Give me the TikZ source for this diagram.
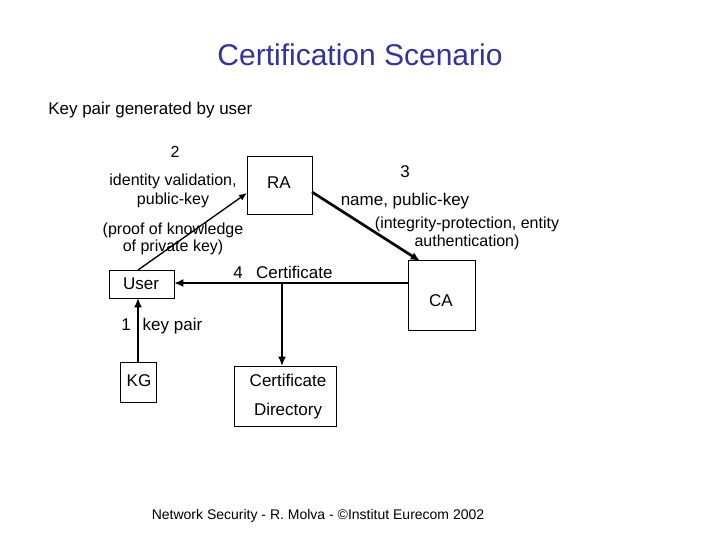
\documentclass[tikz,border=0pt]{standalone}
\usepackage{fontspec}
\setmainfont{Liberation Sans}
\usetikzlibrary{arrows.meta}
\definecolor{titleblue}{RGB}{51,51,153}
\tikzset{
  box/.style={draw, line width=0.8pt, inner sep=0pt, anchor=north west},
  lbl/.style={font=\fontsize{12}{14}\selectfont, inner sep=0pt, align=center},
  biglbl/.style={font=\fontsize{12.75}{15}\selectfont, inner sep=0pt, align=center},
  thin arrow/.style={line width=1pt, -{Latex[length=6pt,width=5pt]}},
  thick arrow/.style={line width=2pt, -{Latex[length=7pt,width=6pt]}},
}
\begin{document}
\begin{tikzpicture}[x=0.75pt, y=-0.75pt]
\useasboundingbox[fill=white] (0,0) rectangle (720,540);
% title
\node[font=\fontsize{22.5}{26}\selectfont, text=titleblue, inner sep=0pt] (title) at (360,55) {Certification Scenario};
\node[font=\fontsize{12.75}{15}\selectfont, anchor=west, inner sep=0pt] (sub) at (48,110) {Key pair generated by user};
% boxes
\node[box, minimum width=65*0.75pt, minimum height=58*0.75pt] (ra) at (247,156) {};
\node[biglbl] (ralbl) at (279,183) {RA};
\node[box, minimum width=65*0.75pt, minimum height=28*0.75pt] (user) at (109,270) {};
\node[biglbl] (userlbl) at (141,284) {User};
\node[box, minimum width=67*0.75pt, minimum height=70*0.75pt] (ca) at (408,260) {};
\node[biglbl] (calbl) at (441,301) {CA};
\node[box, minimum width=36*0.75pt, minimum height=40*0.75pt] (kg) at (120,362) {};
\node[biglbl] (kglbl) at (139,381) {KG};
\node[box, minimum width=102*0.75pt, minimum height=60*0.75pt] (cd) at (234,366) {};
\node[biglbl] (cd1) at (288,380) {Certificate};
\node[biglbl] (cd2) at (288,411) {Directory};
% coordinates
\coordinate (userTop) at (138,270);
\coordinate (raLL) at (247,193);
\coordinate (raR) at (312,192);
\coordinate (caTop) at (420,261);
\coordinate (caL) at (408,283);
\coordinate (userR) at (174,283);
\coordinate (junc) at (282,283);
\coordinate (cdTop) at (282,366);
\coordinate (kgTop) at (138,362);
\coordinate (userBot) at (138,298);
% connectors
\draw[thin arrow] (userTop) -- (raLL);
\draw[thick arrow] (raR) -- (caTop);
\draw[thick arrow] (caL) -- (userR);
\draw[thick arrow] (junc) -- (cdTop);
\draw[thick arrow] (kgTop) -- (userBot);
% labels
\node[lbl] (l2) at (175,152) {2};
\node[lbl] (l2a) at (173,181) {identity validation,};
\node[lbl] (l2b) at (173,200) {public-key};
\node[lbl] (l2c) at (173,230) {(proof of knowledge};
\node[lbl] (l2d) at (173,247) {of private key)};
\node[biglbl] (l3) at (405,172) {3};
\node[biglbl] (l3a) at (405,201) {name, public-key};
\node[lbl] (l3b) at (467,224) {(integrity-protection, entity};
\node[lbl] (l3c) at (467,242) {authentication)};
\node[biglbl, anchor=west] (l4) at (233,272) {4\hspace{10pt}Certificate};
\node[biglbl, anchor=west] (l1) at (121,326) {1\hspace{9pt}key pair};
% footer
\node[font=\fontsize{10.5}{12}\selectfont, inner sep=0pt] (foot) at (318,516) {Network Security - R. Molva - ©Institut Eurecom 2002};
\end{tikzpicture}
\end{document}
